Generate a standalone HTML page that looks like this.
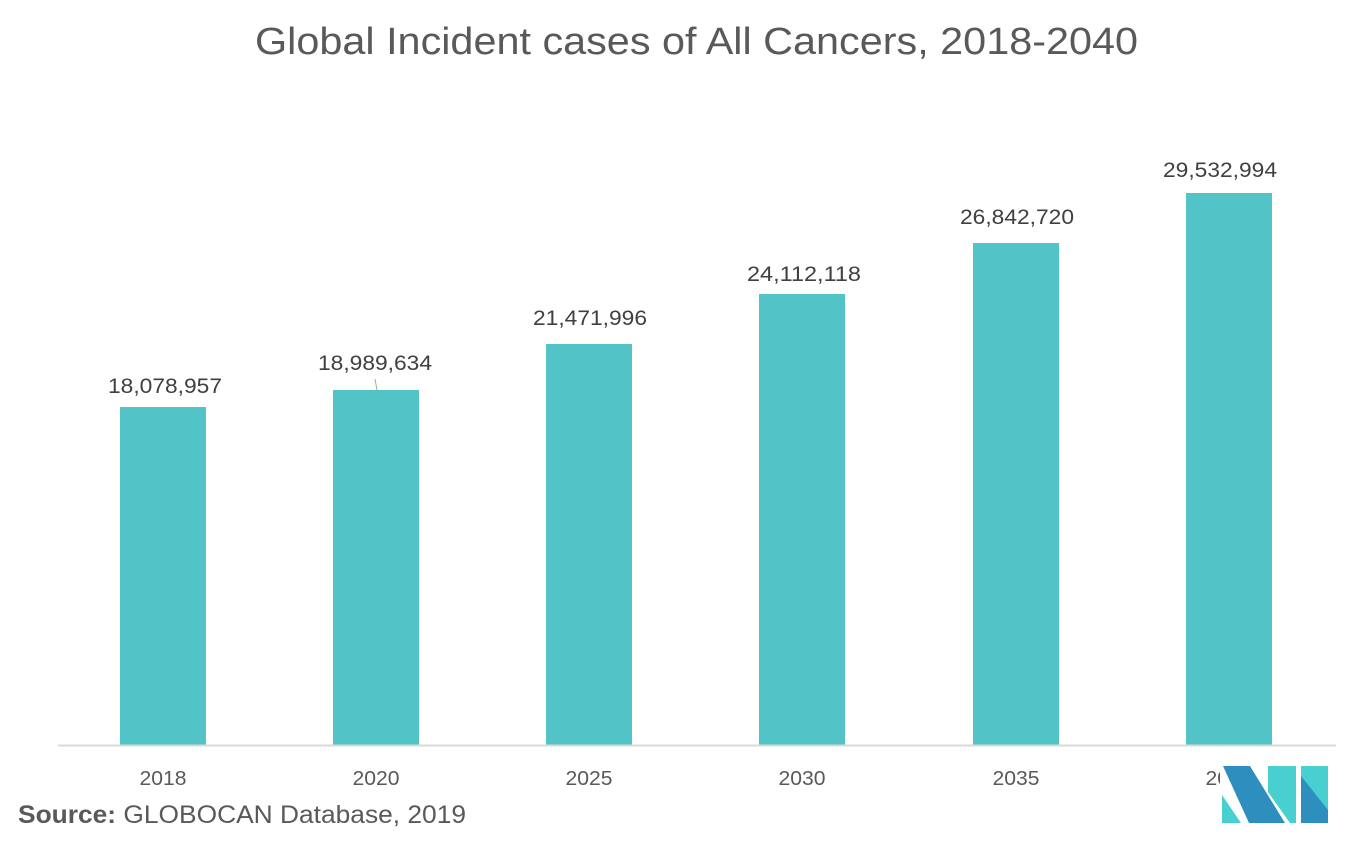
<!DOCTYPE html>
<html><head><meta charset="utf-8"><style>
html,body{margin:0;padding:0;background:#fff;}
svg text{font-family:"Liberation Sans",sans-serif;}
</style></head><body>
<svg width="1359" height="850" viewBox="0 0 1359 850" xmlns="http://www.w3.org/2000/svg">
<rect width="1359" height="850" fill="#fff"/>
<text x="255" y="54" textLength="883" lengthAdjust="spacingAndGlyphs" font-size="38" fill="#595959">Global Incident cases of All Cancers, 2018-2040</text>
<g fill="#52c4c7">
<rect x="120" y="407" width="86" height="338"/>
<rect x="333" y="390" width="86" height="355"/>
<rect x="546" y="344" width="86" height="401"/>
<rect x="759" y="294" width="86" height="451"/>
<rect x="973" y="243" width="86" height="502"/>
<rect x="1186" y="193" width="86" height="552"/>
</g>
<line x1="58" y1="745.5" x2="1336" y2="745.5" stroke="#d9d9d9" stroke-width="2"/>
<line x1="375" y1="379" x2="377" y2="390" stroke="#a6a6a6" stroke-width="1"/>
<g font-size="21" fill="#404040" text-anchor="middle">
<text x="165" y="393" textLength="114" lengthAdjust="spacingAndGlyphs">18,078,957</text>
<text x="375" y="370" textLength="114" lengthAdjust="spacingAndGlyphs">18,989,634</text>
<text x="590" y="325" textLength="114" lengthAdjust="spacingAndGlyphs">21,471,996</text>
<text x="804" y="281" textLength="114" lengthAdjust="spacingAndGlyphs">24,112,118</text>
<text x="1017" y="224" textLength="114" lengthAdjust="spacingAndGlyphs">26,842,720</text>
<text x="1220" y="177" textLength="114" lengthAdjust="spacingAndGlyphs">29,532,994</text>
</g>
<g font-size="20" fill="#595959" text-anchor="middle">
<text x="163" y="785" textLength="47" lengthAdjust="spacingAndGlyphs">2018</text>
<text x="376" y="785" textLength="47" lengthAdjust="spacingAndGlyphs">2020</text>
<text x="589" y="785" textLength="47" lengthAdjust="spacingAndGlyphs">2025</text>
<text x="802" y="785" textLength="47" lengthAdjust="spacingAndGlyphs">2030</text>
<text x="1016" y="785" textLength="47" lengthAdjust="spacingAndGlyphs">2035</text>
<text x="1229" y="785" textLength="47" lengthAdjust="spacingAndGlyphs">2040</text>
</g>
<text x="18" y="823" font-size="25" fill="#595959" textLength="448" lengthAdjust="spacingAndGlyphs"><tspan font-weight="bold">Source:</tspan> GLOBOCAN Database, 2019</text>
<rect x="1220" y="764" width="110" height="62" fill="#fff"/>
<polygon points="1222,795 1222,823 1241,823" fill="#48cfd0"/>
<polygon points="1223,766 1250,766 1285,823 1249,823" fill="#2e8fbf"/>
<polygon points="1268,766 1296,766 1296,823 1290,823 1268,792" fill="#48cfd0"/>
<rect x="1301" y="766" width="27" height="57" fill="#48cfd0"/>
<polygon points="1301,776 1301,823 1328,823 1328,810" fill="#2e8fbf"/>
</svg>
</body></html>
